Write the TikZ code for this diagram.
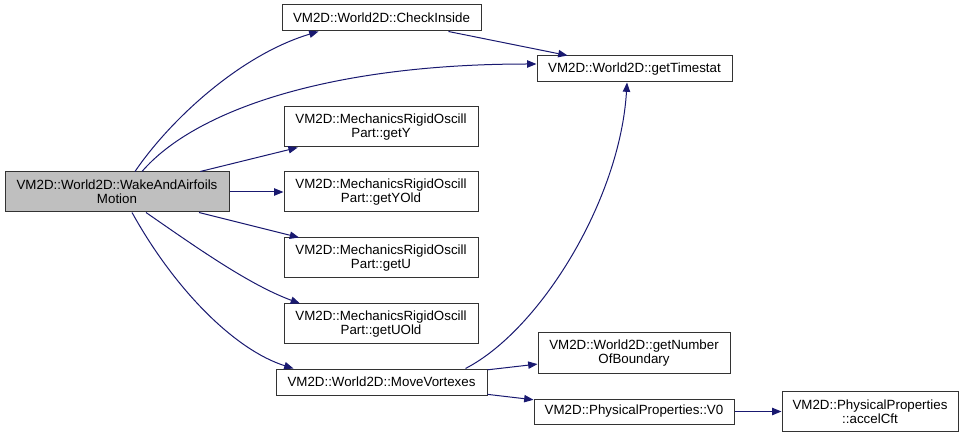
\documentclass[tikz,border=0pt]{standalone}
\usepackage{fontspec}
\setmainfont{Liberation Sans}
\usetikzlibrary{arrows.meta}
\definecolor{callblue}{RGB}{25,25,112}

\begin{document}
\begin{tikzpicture}[x=0.75pt,y=-0.75pt,line width=.75pt,
  fn/.style={draw=black!80,fill=white,inner sep=0pt,align=center,font=\fontsize{10}{10.4}\selectfont,minimum height=19.5pt},
  fntwo/.style={fn,minimum height=30pt},
  call/.style={draw=callblue,-{Triangle[length=7pt,width=5.5pt,fill=callblue]}}]
\path[use as bounding box] (0,0) rectangle (964,438);
\node[fntwo,fill=black!25,minimum width=168pt] (wake) at (117,192) {VM2D::World2D::WakeAndAirfoils\\Motion};
\node[fn,minimum width=149.25pt] (check) at (381.5,18) {VM2D::World2D::CheckInside};
\node[fn,minimum width=146.25pt] (timestat) at (634.5,69) {VM2D::World2D::getTimestat};
\node[fntwo,minimum width=145.5pt] (gety) at (381,127) {VM2D::MechanicsRigidOscill\\Part::getY};
\node[fntwo,minimum width=145.5pt] (getyold) at (381,192) {VM2D::MechanicsRigidOscill\\Part::getYOld};
\node[fntwo,minimum width=145.5pt] (getu) at (381,258) {VM2D::MechanicsRigidOscill\\Part::getU};
\node[fntwo,minimum width=145.5pt] (getuold) at (381,324) {VM2D::MechanicsRigidOscill\\Part::getUOld};
\node[fn,minimum width=158.25pt] (move) at (381.5,382) {VM2D::World2D::MoveVortexes};
\node[fntwo,minimum width=144pt] (nboundary) at (634,353) {VM2D::World2D::getNumber\\OfBoundary};
\node[fn,minimum width=150pt,minimum height=18.75pt] (vzero) at (634,411.5) {VM2D::PhysicalProperties::V0};
\node[fntwo,minimum width=132pt] (accel) at (870,411.5) {VM2D::PhysicalProperties\\::accelCft};
\draw[call] ([xshift=13.5pt]wake.north) .. controls (170,120) and (240,55) .. ([xshift=-47.25pt]check.south);
\draw[call] ([xshift=18.75pt]wake.north) .. controls (195,110) and (330,64) .. ([yshift=3.75pt]timestat.west);
\draw[call] (wake) -- (gety);
\draw[call] (wake) -- (getyold);
\draw[call] (wake) -- (getu);
\draw[call] ([xshift=21.75pt]wake.south) .. controls (200,250) and (250,285) .. ([xshift=-60.75pt]getuold.north);
\draw[call] ([xshift=11.25pt]wake.south) .. controls (175,290) and (235,350) .. ([xshift=-66pt]move.north);
\draw[call] (check) -- (timestat);
\draw[call] ([xshift=63pt]move.north) .. controls (540,330) and (620,200) .. ([xshift=-5.6pt]timestat.south);
\draw[call] (move) -- (nboundary);
\draw[call] (move) -- (vzero);
\draw[call] (vzero) -- (accel);
\end{tikzpicture}
\end{document}
